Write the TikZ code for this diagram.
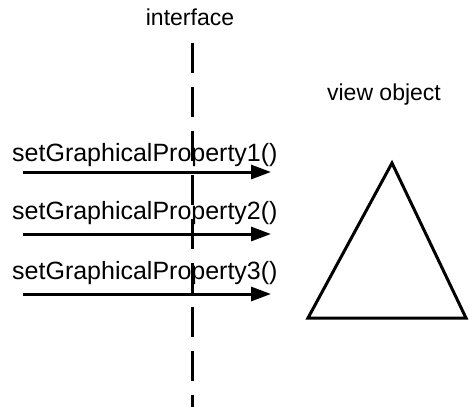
\documentclass[tikz,border=0pt]{standalone}
\usepackage{fontspec}
\setmainfont{Liberation Sans}
\usetikzlibrary{arrows.meta, positioning}

\begin{document}
\begin{tikzpicture}[
    x=1pt, y=-1pt,
    every node/.style={font=\fontsize{23}{26}\selectfont, inner sep=0pt},
    lbl/.style={font=\fontsize{25}{28}\selectfont, anchor=west},
    msg/.style={-{Triangle[length=20pt, width=14pt]}, line width=3pt},
    iface/.style={line width=3pt, dash pattern=on 30pt off 14pt},
    obj/.style={line width=3pt, line join=miter}
]
    \useasboundingbox (0,0) rectangle (469,407);

    \node (title) at (190,17) {interface};
    \node (view) at (384,95) {view object};

    \node[lbl] (m1) at (12,155) {setGraphicalProperty1()};
    \node[lbl] (m2) at (12,213) {setGraphicalProperty2()};
    \node[lbl] (m3) at (12,273) {setGraphicalProperty3()};

    \coordinate (s1) at (23,172); \coordinate (e1) at (271,172);
    \coordinate (s2) at (23,234); \coordinate (e2) at (271,234);
    \coordinate (s3) at (23,294); \coordinate (e3) at (271,294);
    \draw[msg] (s1) -- (e1);
    \draw[msg] (s2) -- (e2);
    \draw[msg] (s3) -- (e3);

    % view object
    \coordinate (apex) at (392,163);
    \coordinate (bl) at (308,318);
    \coordinate (br) at (466,318);
    \draw[obj] (apex) -- (bl) -- (br) -- cycle;

    % interface line
    \coordinate (top) at (192,43);
    \coordinate (bottom) at (192,407);
    \draw[iface] (top) -- (bottom);
\end{tikzpicture}
\end{document}
